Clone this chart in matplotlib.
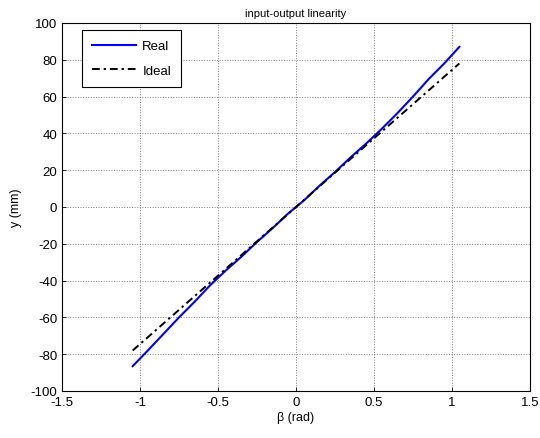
import matplotlib.pyplot as plt

plt.rcParams['font.family'] = ['Liberation Sans', 'DejaVu Sans']
plt.rcParams['axes.unicode_minus'] = False

# values
beta_real = [-1.047, -0.95, -0.85, -0.75, -0.65, -0.55, -0.45, -0.35, -0.25, -0.15, -0.05,
             0.05, 0.15, 0.25, 0.35, 0.45, 0.55, 0.65, 0.75, 0.85, 0.95, 1.047]
y_real = [-86.5, -78.0, -69.0, -60.0, -51.5, -42.5, -34.5, -27.0, -19.0, -11.5, -3.5,
          3.5, 11.5, 19.0, 27.0, 34.5, 42.5, 51.0, 60.0, 69.5, 78.0, 87.0]

beta_ideal = [-1.047, -0.5, 0.0, 0.5, 1.047]
y_ideal = [-78.0, -37.3, 0.0, 37.3, 78.0]

fig = plt.figure(figsize=(5.4, 4.39), dpi=100)
ax = fig.add_axes([62 / 540, 1 - 392 / 439, 468 / 540, 368 / 439])

ax.plot(beta_real, y_real, color='#0000ff', lw=1.5, label='Real')
ax.plot(beta_ideal, y_ideal, color='black', lw=1.4, ls='-.', dashes=(4, 2, 1.2, 2),
        label='Ideal')

ax.set_xlim(-1.5, 1.5)
ax.set_ylim(-100, 100)
ax.set_xticks([-1.5, -1, -0.5, 0, 0.5, 1, 1.5])
ax.set_xticklabels(['-1.5', '-1', '-0.5', '0', '0.5', '1', '1.5'])
ax.set_yticks(range(-100, 101, 20))
ax.tick_params(direction='in', length=3, labelsize=9.5, width=0.6)
ax.grid(True, color='#808080', ls=':', lw=0.7)
for s in ax.spines.values():
    s.set_linewidth(0.8)

ax.set_xlabel('β (rad)', fontsize=9, labelpad=2)
ax.set_ylabel('y (mm)', fontsize=9, labelpad=6)
ax.set_title('input-output linearity', fontsize=8, pad=5)

leg = ax.legend(loc='upper left', bbox_to_anchor=(0.042, 0.981), fontsize=9.5,
                fancybox=False, framealpha=1, edgecolor='black',
                handlelength=3.4, borderaxespad=0, handletextpad=0.45,
                labelspacing=0.95, borderpad=0.75)
leg.get_frame().set_linewidth(0.8)

fig.savefig('out.png', dpi=100)
